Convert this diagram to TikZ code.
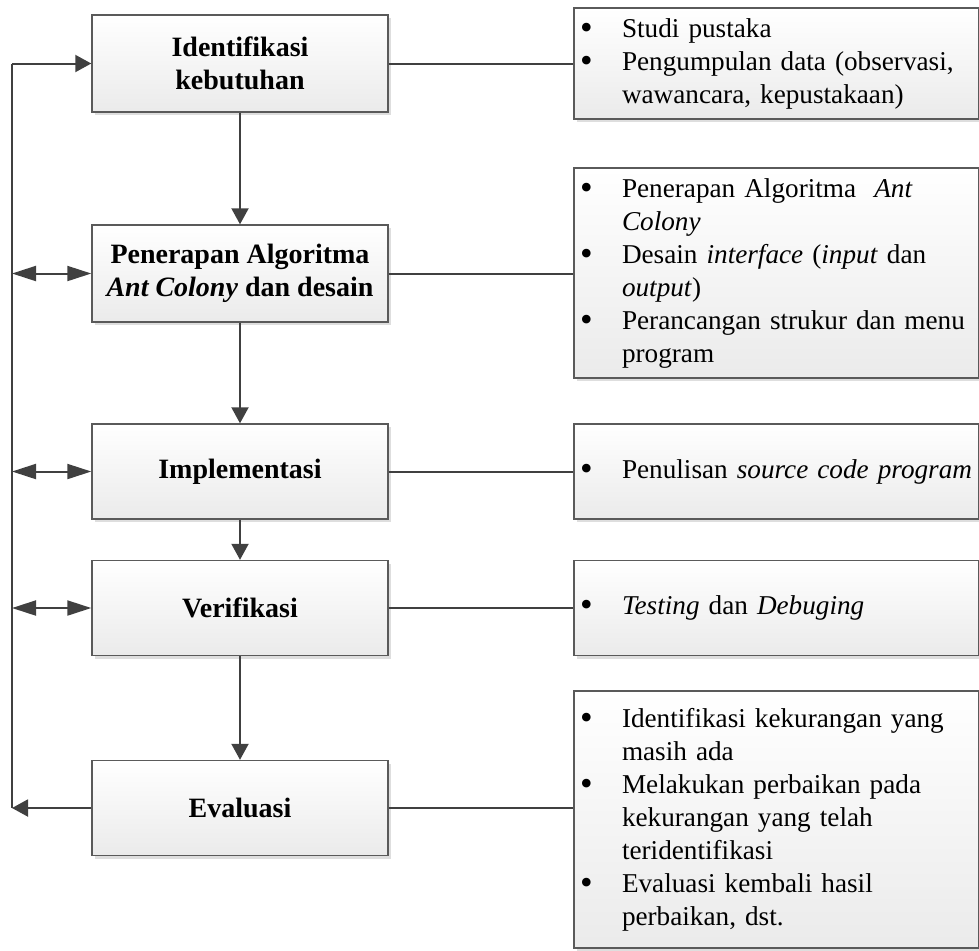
\documentclass[tikz,border=0pt]{standalone}
\usepackage{fontspec}
\setmainfont{Liberation Serif}
\usepackage{xcolor}
\usetikzlibrary{arrows.meta,shadows}

\definecolor{boxline}{HTML}{5A5A5A}
\definecolor{arrowline}{HTML}{404040}

% bullet line and its continuation
\newcommand{\itm}[1]{\makebox[21pt][l]{\smash{\raisebox{-1pt}{\fontsize{18}{18}\selectfont\textbullet}}}\mbox{#1}}
\newcommand{\cnt}[1]{\hspace*{21pt}\mbox{#1}}

\begin{document}
\begin{tikzpicture}[
    x=0.5pt, y=-0.5pt,
    stage/.style={
      draw=boxline, line width=0.7pt, rectangle,
      top color=white, bottom color=black!8,
      drop shadow={shadow xshift=1.5pt, shadow yshift=-1.5pt, fill=black!13, opacity=1},
      minimum width=148pt, minimum height=47.5pt,
      align=center, font=\fontsize{14}{16.5}\selectfont\bfseries
    },
    task/.style={
      stage, text width=196.5pt, inner xsep=3pt,
      align=left, font=\fontsize{13.6}{16.5}\selectfont
    },
    link/.style={draw=arrowline, line width=1pt},
    dbl/.style={link, {Triangle[length=12pt,width=7.5pt]}-{Triangle[length=12pt,width=7.5pt]}},
    >={Triangle[length=8pt,width=8.5pt]}
]
  \useasboundingbox (0,0) rectangle (979,950);

  % Stages
  \node[stage, minimum height=48.5pt] (b1) at (240,63.5) {Identifikasi\\kebutuhan};
  \node[stage, minimum height=48.5pt] (b2) at (240,273.5) {Penerapan Algoritma\\\textit{Ant Colony} dan desain};
  \node[stage] (b3) at (240,471.5) {Implementasi};
  \node[stage] (b4) at (240,608) {Verifikasi};
  \node[stage] (b5) at (240,808) {Evaluasi};

  % Activities
  \node[task, minimum height=55.5pt] (r1) at (776.5,63.5) {%
    \itm{Studi pustaka}\\
    \itm{Pengumpulan data (observasi,}\\
    \cnt{wawancara, kepustakaan)}};
  \node[task, minimum height=105pt] (r2) at (776.5,273) {%
    \itm{Penerapan Algoritma \ \textit{Ant}}\\
    \cnt{\textit{Colony}}\\
    \itm{Desain \textit{interface} (\textit{input} dan}\\
    \cnt{\textit{output})}\\
    \itm{Perancangan strukur dan menu}\\
    \cnt{program}};
  \node[task] (r3) at (776.5,471.5) {\itm{Penulisan \textit{source code program}}};
  \node[task] (r4) at (776.5,608) {\itm{\textit{Testing} dan \textit{Debuging}}};
  \node[task, minimum height=128.5pt] (r5) at (776.5,819.5) {%
    \itm{Identifikasi kekurangan yang}\\
    \cnt{masih ada}\\
    \itm{Melakukan perbaikan pada}\\
    \cnt{kekurangan yang telah}\\
    \cnt{teridentifikasi}\\
    \itm{Evaluasi kembali hasil}\\
    \cnt{perbaikan, dst.}};

  % Flow between stages
  \draw[link,->] (b1) -- (b2);
  \draw[link,->] (b2) -- (b3);
  \draw[link,->] (b3) -- (b4);
  \draw[link,->] (b4) -- (b5);

  % Stage to activity
  \foreach \s/\r in {b1/r1,b2/r2,b3/r3,b4/r4,b5/r5}
  \draw[link] (\s.east) -- (\s.east -| \r.west);

  % Feedback loop
  \coordinate (lft) at (12,0);
  \draw[link] (b1.west -| lft) -- (b5.west -| lft);
  \draw[link,->] (b1.west -| lft) -- (b1.west);
  \draw[link,->] (b5.west) -- (b5.west -| lft);
  \foreach \s in {b2,b3,b4}
  \draw[dbl] (\s.west -| lft) -- (\s.west);

\end{tikzpicture}
\end{document}
